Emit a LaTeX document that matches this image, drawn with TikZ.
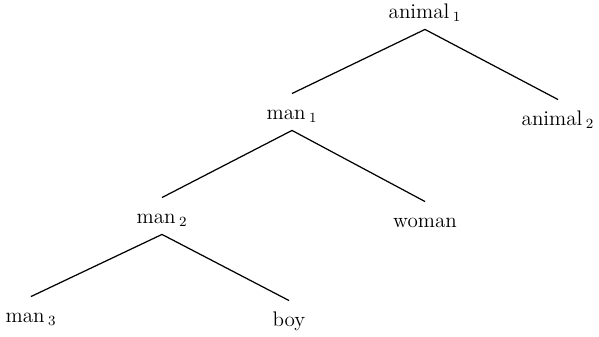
\documentclass[tikz,border=0pt]{standalone}
\usepackage{tikz}
\usetikzlibrary{positioning}

\begin{document}
\begin{tikzpicture}[
    x=0.02cm, y=-0.02cm,
    every node/.style={font=\large},
    word/.style={anchor=base, inner sep=0pt, outer xsep=0pt, outer ysep=6.5pt, text height=8pt, text depth=0pt},
    branch/.style={draw=black, line width=0.7pt}
]
\useasboundingbox (0,0) rectangle (599,336);

% ==================== WORDS ====================
\node[word] (animal1) at (425,18) {animal\,$_1$};
\node[word] (man1) at (292,119) {man\,$_1$};
\node[word] (animal2) at (558,125) {animal\,$_2$};
\node[word] (man2) at (162,223) {man\,$_2$};
\node[word] (woman) at (425,227) {woman};
\node[word] (man3) at (31,322) {man\,$_3$};
\node[word] (boy) at (289,326) {boy};

% ==================== BRANCHES ====================
\draw[branch] (animal1.south) -- (man1.north);
\draw[branch] (animal1.south) -- (animal2.north);
\draw[branch] (man1.south) -- (man2.north);
\draw[branch] (man1.south) -- (woman.north);
\draw[branch] (man2.south) -- (man3.north);
\draw[branch] (man2.south) -- (boy.north);

\end{tikzpicture}
\end{document}
